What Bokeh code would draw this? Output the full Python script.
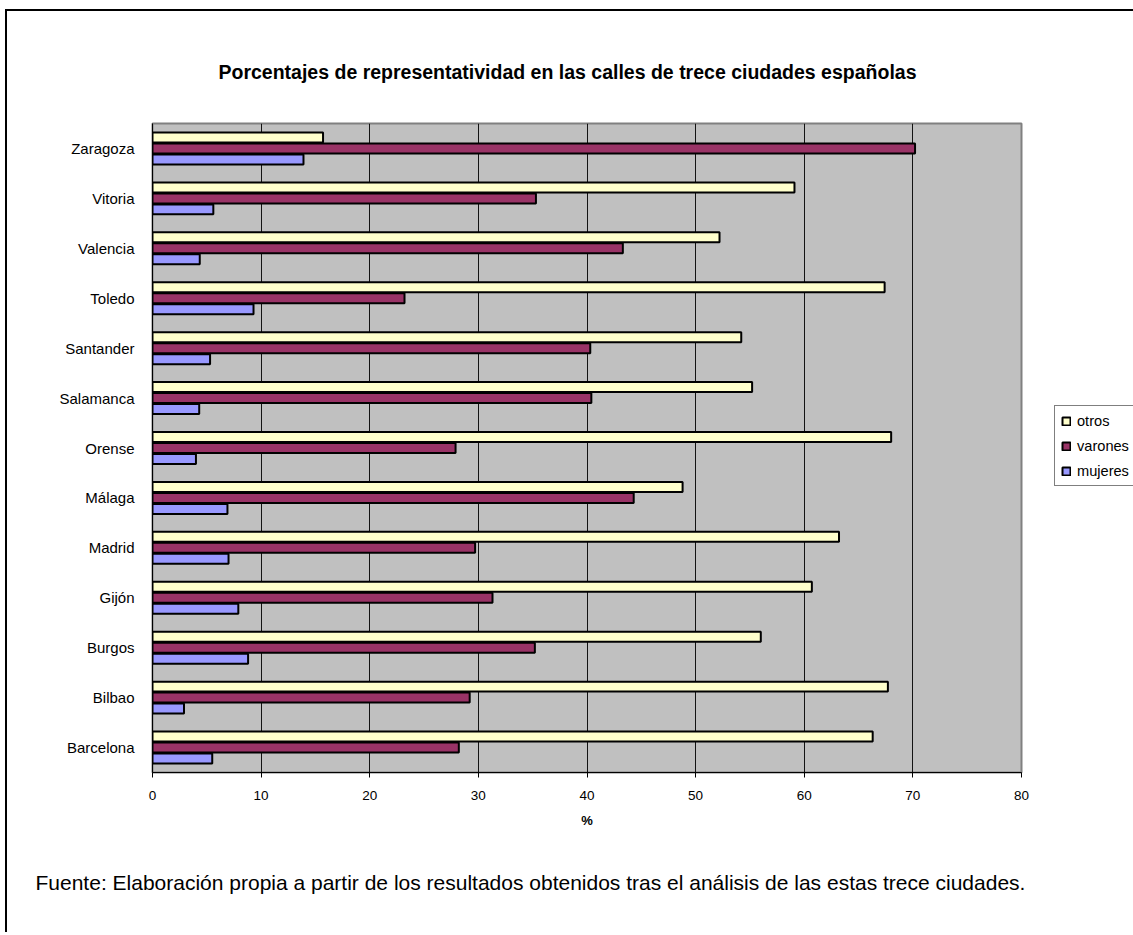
from bokeh.plotting import figure
from bokeh.models import ColumnDataSource, Legend, LegendItem, FactorRange, Title
from bokeh.transform import dodge
from bokeh.embed import file_html
from bokeh.resources import INLINE

cities = ["Barcelona", "Bilbao", "Burgos", "Gijón", "Madrid", "Málaga", "Orense",
          "Salamanca", "Santander", "Toledo", "Valencia", "Vitoria", "Zaragoza"]
otros = [66.3, 67.7, 56.0, 60.7, 63.2, 48.8, 68.0, 55.2, 54.2, 67.4, 52.2, 59.1, 15.7]
varones = [28.2, 29.2, 35.2, 31.3, 29.7, 44.3, 27.9, 40.4, 40.3, 23.2, 43.3, 35.3, 70.2]
mujeres = [5.5, 2.9, 8.8, 7.9, 7.0, 6.9, 4.0, 4.3, 5.3, 9.3, 4.35, 5.6, 13.9]
x_ticks = [0, 10, 20, 30, 40, 50, 60, 70, 80]

title_text = "Porcentajes de representatividad en las calles de trece ciudades españolas"
source_text = ("Fuente: Elaboración propia a partir de los resultados obtenidos tras el "
               "análisis de las estas trece ciudades.")

FONT = "Liberation Sans"

src = ColumnDataSource(dict(city=cities, otros=otros, varones=varones, mujeres=mujeres))

p = figure(frame_width=869, frame_height=649, y_range=FactorRange(*cities), x_range=(0, 80),
           output_backend="svg", toolbar_location=None, title=None,
           min_border_left=145, min_border_right=110, min_border_top=112, min_border_bottom=150)
p.styles = {"margin-left": "5px", "margin-top": "9px",
            "border-left": "2px solid black", "border-top": "2px solid black"}

p.background_fill_color = "#C0C0C0"
p.border_fill_color = "white"
p.outline_line_color = "#808080"
p.outline_line_width = 2

h = 0.2
r_otros = p.hbar(y=dodge("city", 0.22, range=p.y_range), right="otros", left=0, height=h,
                 source=src, fill_color="#FFFFCC", line_color="black", line_width=2)
r_var = p.hbar(y=dodge("city", 0.0, range=p.y_range), right="varones", left=0, height=h,
               source=src, fill_color="#993366", line_color="black", line_width=2)
r_muj = p.hbar(y=dodge("city", -0.22, range=p.y_range), right="mujeres", left=0, height=h,
               source=src, fill_color="#9999FF", line_color="black", line_width=2)

# grids
p.ygrid.grid_line_color = None
p.xgrid.grid_line_color = "black"
p.xgrid.grid_line_alpha = 0.9
p.xgrid.grid_line_width = 1
p.xgrid.ticker = x_ticks

# x axis
p.xaxis.ticker = x_ticks
p.xaxis.axis_label = "%"
p.xaxis.axis_label_text_font = FONT
p.xaxis.axis_label_text_font_style = "bold"
p.xaxis.axis_label_text_font_size = "13px"
p.xaxis.axis_label_text_color = "black"
p.xaxis.axis_label_standoff = 10
p.xaxis.major_label_text_font = FONT
p.xaxis.major_label_text_font_size = "13.5px"
p.xaxis.major_label_text_color = "black"
p.xaxis.major_label_standoff = 13
p.xaxis.major_tick_out = 5
p.xaxis.major_tick_in = 0
p.xaxis.minor_tick_line_color = None
p.xaxis.axis_line_color = "black"
p.xaxis.axis_line_width = 1

# y axis
p.yaxis.major_label_text_font = FONT
p.yaxis.major_label_text_font_size = "15px"
p.yaxis.major_label_text_color = "black"
p.yaxis.major_tick_line_color = None
p.yaxis.major_label_standoff = 12
p.yaxis.axis_line_color = "black"
p.yaxis.axis_line_width = 1
p.y_range.range_padding = 0

# title above, source note below
t_title = Title(text=title_text, align="left", offset=66, standoff=82,
                text_font=FONT, text_font_style="bold", text_font_size="19.5px",
                text_color="black")
p.add_layout(t_title, "above")

t_src = Title(text=source_text, align="left", offset=-117, standoff=77,
              text_font=FONT, text_font_style="normal", text_font_size="21px",
              text_color="black")
p.add_layout(t_src, "below")

legend = Legend(items=[LegendItem(label="otros", renderers=[r_otros]),
                       LegendItem(label="varones", renderers=[r_var]),
                       LegendItem(label="mujeres", renderers=[r_muj])],
                location=(33, 286))
legend.label_text_font = FONT
legend.label_text_font_size = "14.6px"
legend.label_text_color = "black"
legend.glyph_width = 10
legend.glyph_height = 10
legend.label_height = 17
legend.label_standoff = 6
legend.spacing = 8
legend.padding = 6
legend.margin = 0
legend.border_line_color = "black"
legend.border_line_width = 1
legend.background_fill_color = "white"
legend.background_fill_alpha = 1
p.add_layout(legend, "right")

open("out.html", "w").write(file_html(p, INLINE))
